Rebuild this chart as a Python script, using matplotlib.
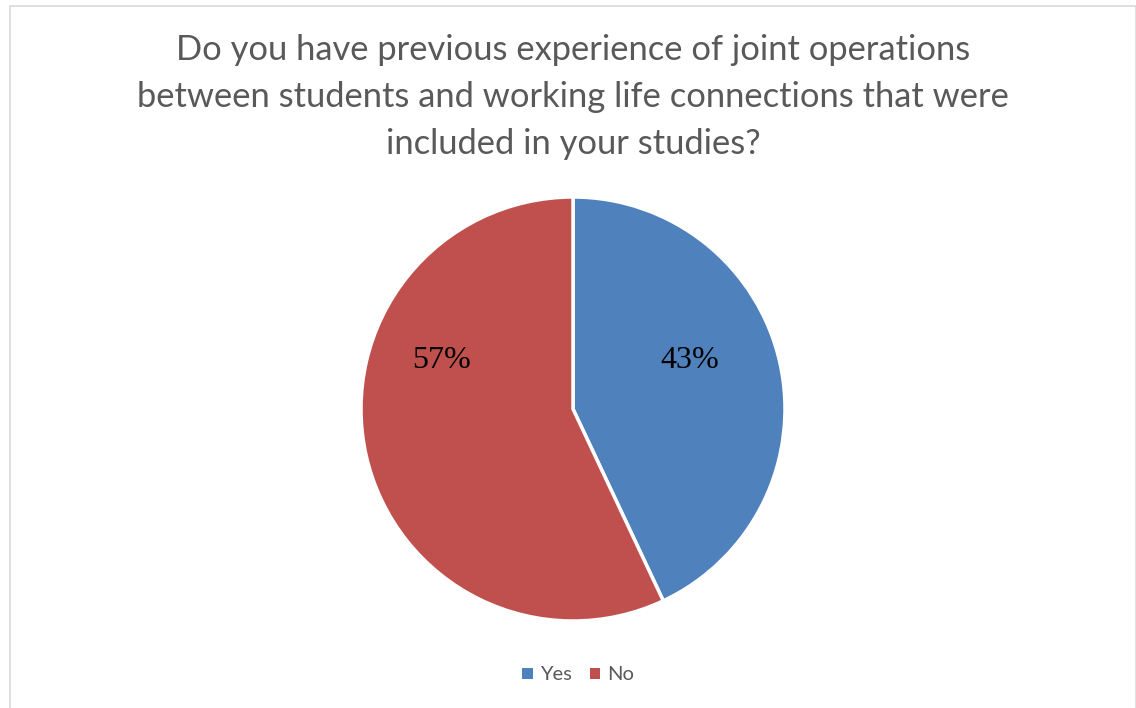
import matplotlib.pyplot as plt
from matplotlib.patches import Patch, Rectangle

# Survey answers and their shares
categories = ["Yes", "No"]
shares = [43, 57]
colors = ["#4F81BD", "#C0504D"]
title = ("Do you have previous experience of joint operations\n"
         "between students and working life connections that were\n"
         "included in your studies?")

W, H = 1136, 708
fig = plt.figure(figsize=(W / 100, H / 100), dpi=100)
fig.patch.set_facecolor("white")

# thin gray chart border
fig.add_artist(Rectangle((9.5 / W, -0.01), (1135.5 - 9.5) / W, 1 - 5.5 / H + 0.01,
                         transform=fig.transFigure, fill=False,
                         edgecolor="#D9D9D9", linewidth=1.2))

fig.text(573 / W, 1 - 97 / H, title, ha="center", va="center",
         fontsize=24.8, color="#595959", family="Lato", linespacing=1.58)

# pie centred at (573, 409) px, radius 212 px
cx, cy, r = 573, 409, 212
ax = fig.add_axes([(cx - r) / W, (H - cy - r) / H, 2 * r / W, 2 * r / H])
wedges, texts, autotexts = ax.pie(
    shares, colors=colors, startangle=90, counterclock=False,
    autopct=lambda p: f"{p:.0f}%", pctdistance=0.6,
    wedgeprops=dict(edgecolor="white", linewidth=2.5),
    textprops=dict(fontsize=23, family="Liberation Serif", color="black"),
)
# label placement inside each slice
autotexts[0].set_position((0.55, 0.23))
autotexts[1].set_position((-0.62, 0.23))
ax.set_xlim(-1, 1)
ax.set_ylim(-1, 1)
ax.set_aspect("equal")
ax.axis("off")

handles = [Patch(facecolor=c, edgecolor="none") for c in colors]
leg = fig.legend(handles, categories, loc="center", ncol=2,
                 bbox_to_anchor=(578 / W, 1 - 675 / H), frameon=False,
                 handlelength=0.5, handleheight=0.5, handletextpad=0.35,
                 columnspacing=0.9, prop=dict(family="Lato", size=14.5))
for t in leg.get_texts():
    t.set_color("#595959")

fig.savefig("out.png", dpi=100)
